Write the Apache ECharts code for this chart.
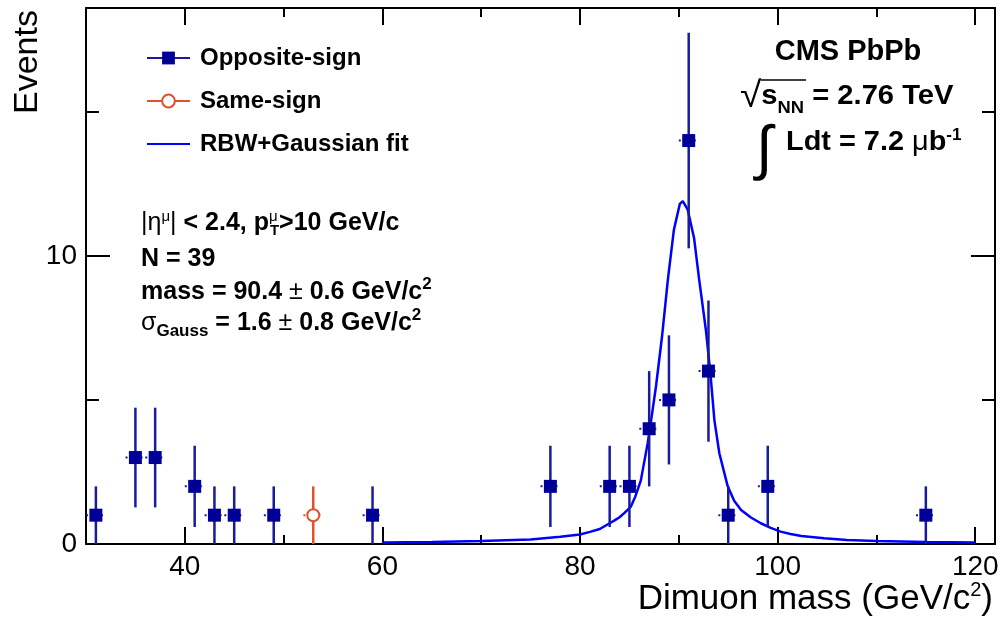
<!DOCTYPE html>
<html>
<head>
<meta charset="utf-8">
<script src="https://cdn.jsdelivr.net/npm/echarts@6/dist/echarts.min.js"></script>
<style>
  html, body { margin: 0; padding: 0; background: #fff; }
  #chart { width: 1002px; height: 621px; }
</style>
</head>
<body>
<div id="chart"></div>
<script>
/* ===== Data ===== */
// opposite-sign dimuon pairs, 2 GeV bins
const oppMass = [31, 35, 37, 41, 43, 45, 49, 59, 77, 83, 85, 87, 89, 91, 93, 95, 99, 115];
const oppEvents = [1, 3, 3, 2, 1, 1, 1, 1, 2, 2, 2, 4, 5, 14, 6, 1, 2, 1];
const oppErr = [1, 1.73, 1.73, 1.41, 1, 1, 1, 1, 1.41, 1.41, 1.41, 2, 2.24, 3.74, 2.45, 1, 1.41, 1];

// same-sign pairs
const sameMass = [53];
const sameEvents = [1];
const sameErr = [1];

// RBW+Gaussian fit curve
const fitMass = [60, 65, 70, 75, 78, 80, 81, 82, 83, 83.5, 84, 84.5, 85.15, 85.6, 86.15, 86.85, 87.2, 87.7, 88.3, 88.9,
    89.5, 90.1, 90.4, 90.9, 91.55, 92.05, 92.75, 93.2, 93.6, 94.1, 94.95, 95.6, 96.3, 97.3, 98.3, 99.3, 100.3, 101.3,
    102.4, 104.7, 107, 110, 115, 120];
const fitEvents = [0.05, 0.07, 0.1, 0.16, 0.25, 0.33, 0.42, 0.52, 0.72, 0.82, 0.93, 1.08, 1.3, 1.65, 2.2, 3.5, 4.3, 5.5,
    7.2, 9.2, 10.9, 11.8, 11.9, 11.6, 10.6, 9.2, 7.4, 5.9, 4.3, 3.15, 2.0, 1.5, 1.18, 0.92, 0.72, 0.56, 0.43, 0.35,
    0.28, 0.2, 0.14, 0.1, 0.07, 0.05];

const binHalfWidth = 1;

// axis ticks
const xTicks = [40, 60, 80, 100, 120];
const xMinorTicks = [50, 70, 90, 110];
const yTicks = [0, 10];
const yMinorTicks = [5, 15];

const FONT = "'Liberation Sans', Arial, Helvetica, sans-serif";
const NAVY = '#000099';
const ERR_BLUE = '#1a1a9e';
const ORANGE = '#e0522b';
const FIT_BLUE = '#0000ff';

const bold = (size, extra) => Object.assign({ fontSize: size, fontWeight: 'bold', fontFamily: FONT }, extra);
const reg = (size, extra) => Object.assign({ fontSize: size, fontWeight: 'normal', fontFamily: FONT }, extra);

const chart = echarts.init(document.getElementById('chart'));

// error bars (vertical + short dotted bin width)
function errorBars(color) {
    return function (params, api) {
        const x = api.value(0), y = api.value(1), e = api.value(2);
        const top = api.coord([x, y + e]);
        const bot = api.coord([x, Math.max(0, y - e)]);
        const l = api.coord([x - binHalfWidth, y]);
        const r = api.coord([x + binHalfWidth, y]);
        return {
            type: 'group',
            children: [
                { type: 'line', shape: { x1: top[0], y1: top[1], x2: bot[0], y2: bot[1] },
                  style: { stroke: color, lineWidth: 2.5 } },
                { type: 'line', shape: { x1: l[0], y1: l[1], x2: r[0], y2: r[1] },
                  style: { stroke: color, lineWidth: 2, lineDash: [2, 3] } }
            ]
        };
    };
}

function xAxisDef(position, ticks, len, labels) {
    return {
        type: 'value', gridIndex: 0, position: position, min: 30, max: 122,
        axisLine: { show: labels !== null, onZero: false, lineStyle: { color: '#000', width: 2 } },
        axisTick: { show: true, inside: true, length: len, customValues: ticks, lineStyle: { color: '#000', width: 2 } },
        axisLabel: labels ? { show: true, customValues: labels, color: '#000', fontSize: 28, fontFamily: FONT, margin: 9 }
                          : { show: false },
        splitLine: { show: false }
    };
}

function yAxisDef(position, ticks, len, labels) {
    return {
        type: 'value', gridIndex: 0, position: position, min: 0, max: 18.6,
        axisLine: { show: labels !== null, onZero: false, lineStyle: { color: '#000', width: 2 } },
        axisTick: { show: true, inside: true, length: len, customValues: ticks, lineStyle: { color: '#000', width: 2 } },
        axisLabel: labels ? { show: true, customValues: labels, color: '#000', fontSize: 28, fontFamily: FONT, margin: 9 }
                          : { show: false },
        splitLine: { show: false }
    };
}

const annRich = {
    b: bold(25, { lineHeight: 30 }),
    r: reg(25, { lineHeight: 30 }),
    sup: reg(15, { padding: [0, 0, 12, 0] }),
    supw: reg(15, { width: 1, padding: [0, 0, 12, 0] }),
    sub: bold(15, { padding: [16, 0, 0, 0] }),
    subg: bold(17, { padding: [16, 0, 0, 0] }),
    sup2: bold(17, { padding: [0, 0, 15, 0] })
};

const option = {
    animation: false,
    backgroundColor: '#fff',
    grid: { left: 86, right: 7, top: 8, bottom: 77 },
    xAxis: [
        xAxisDef('bottom', xTicks, 17, xTicks),
        xAxisDef('bottom', xMinorTicks, 9, null),
        xAxisDef('top', xTicks, 17, false),
        xAxisDef('top', xMinorTicks, 9, null)
    ],
    yAxis: [
        yAxisDef('left', yTicks, 24, yTicks),
        yAxisDef('left', yMinorTicks, 13, null),
        yAxisDef('right', yTicks, 24, false),
        yAxisDef('right', yMinorTicks, 13, null)
    ],
    legend: {
        orient: 'vertical',
        left: 146,
        top: 45,
        padding: 0,
        itemWidth: 43,
        itemHeight: 16,
        itemGap: 17,
        selectedMode: false,
        textStyle: { fontSize: 24, fontWeight: 'bold', fontFamily: FONT, color: '#000', lineHeight: 26, padding: [0, 0, 0, 5] },
        data: [
            { name: 'Opposite-sign', lineStyle: { width: 2, opacity: 1, color: ERR_BLUE } },
            { name: 'Same-sign', lineStyle: { width: 2, opacity: 1, color: ORANGE } },
            { name: 'RBW+Gaussian fit', itemStyle: { opacity: 0 } }
        ]
    },
    series: [
        {
            type: 'line',
            name: 'RBW+Gaussian fit',
            data: fitMass.map((m, i) => [m, fitEvents[i]]),
            symbol: 'none',
            smooth: false,
            lineStyle: { color: FIT_BLUE, width: 2.5 },
            itemStyle: { color: FIT_BLUE },
            z: 2
        },
        {
            type: 'custom',
            name: 'opp-err',
            data: oppMass.map((m, i) => [m, oppEvents[i], oppErr[i]]),
            renderItem: errorBars(ERR_BLUE),
            encode: { x: 0, y: 1 },
            z: 3
        },
        {
            type: 'custom',
            name: 'same-err',
            data: sameMass.map((m, i) => [m, sameEvents[i], sameErr[i]]),
            renderItem: errorBars(ORANGE),
            encode: { x: 0, y: 1 },
            z: 3
        },
        {
            type: 'line',
            name: 'Opposite-sign',
            data: oppMass.map((m, i) => [m, oppEvents[i]]),
            symbol: 'rect',
            symbolSize: 13,
            showAllSymbol: true,
            lineStyle: { width: 0, opacity: 0 },
            itemStyle: { color: NAVY },
            z: 4
        },
        {
            type: 'line',
            name: 'Same-sign',
            data: sameMass.map((m, i) => [m, sameEvents[i]]),
            symbol: 'emptyCircle',
            symbolSize: 12,
            lineStyle: { width: 0, opacity: 0 },
            itemStyle: { color: ORANGE, borderWidth: 2 },
            z: 4
        }
    ],
    graphic: [
        // axis titles
        { type: 'text', x: 28, y: 62, rotation: Math.PI / 2,
          style: Object.assign(reg(34), { text: 'Events', fill: '#000', align: 'center', verticalAlign: 'middle' }) },
        { type: 'text', x: 993, y: 599,
          style: { text: '{a|Dimuon mass (GeV/c}{s|2}{a|)}', align: 'right', verticalAlign: 'middle', fill: '#000',
                   rich: { a: reg(35, { lineHeight: 38 }), s: reg(20, { padding: [0, 0, 17, 0] }) } } },

        // selection / fit results
        { type: 'text', x: 141, y: 223,
          style: { text: '{r||η}{sup|μ}{r||}{b| < 2.4, p}{supw|μ}{sub|T}{b|>10 GeV/c}',
                   verticalAlign: 'middle', fill: '#000', rich: annRich } },
        { type: 'text', x: 141, y: 259,
          style: { text: '{b|N = 39}', verticalAlign: 'middle', fill: '#000', rich: annRich } },
        { type: 'text', x: 141, y: 292,
          style: { text: '{b|mass = 90.4 }{r|±}{b| 0.6 GeV/c}{sup2|2}', verticalAlign: 'middle', fill: '#000', rich: annRich } },
        { type: 'text', x: 141, y: 323,
          style: { text: '{r|σ}{subg|Gauss}{b| = 1.6 }{r|±}{b| 0.8 GeV/c}{sup2|2}', verticalAlign: 'middle', fill: '#000', rich: annRich } },

        // experiment label
        { type: 'text', x: 848, y: 52,
          style: Object.assign(bold(29), { text: 'CMS PbPb', fill: '#000', align: 'center', verticalAlign: 'middle' }) },
        { type: 'text', x: 740, y: 97, scaleX: 1.08,
          style: { text: '{rt|√}{b|s}{sub|NN}{b| = 2.76 TeV}', verticalAlign: 'middle', fill: '#000',
                   rich: { rt: reg(36), b: bold(27, { lineHeight: 32 }), sub: bold(17, { padding: [22, 0, 0, 0] }) } } },
        { type: 'line', shape: { x1: 761, y1: 80, x2: 806, y2: 80 }, style: { stroke: '#000', lineWidth: 1.5 } },
        { type: 'text', x: 756, y: 151,
          style: Object.assign(reg(60), { text: '∫', fill: '#000', verticalAlign: 'middle' }) },
        { type: 'text', x: 786, y: 143, scaleX: 1.07,
          style: { text: '{b|Ldt = 7.2 }{r|μ}{b|b}{sup|-1}', verticalAlign: 'middle', fill: '#000',
                   rich: { b: bold(27, { lineHeight: 32 }), r: reg(27, { lineHeight: 32 }), sup: bold(16, { padding: [0, 0, 14, 0] }) } } }
    ]
};

chart.setOption(option);
window.addEventListener('resize', () => chart.resize());
</script>
</body>
</html>
